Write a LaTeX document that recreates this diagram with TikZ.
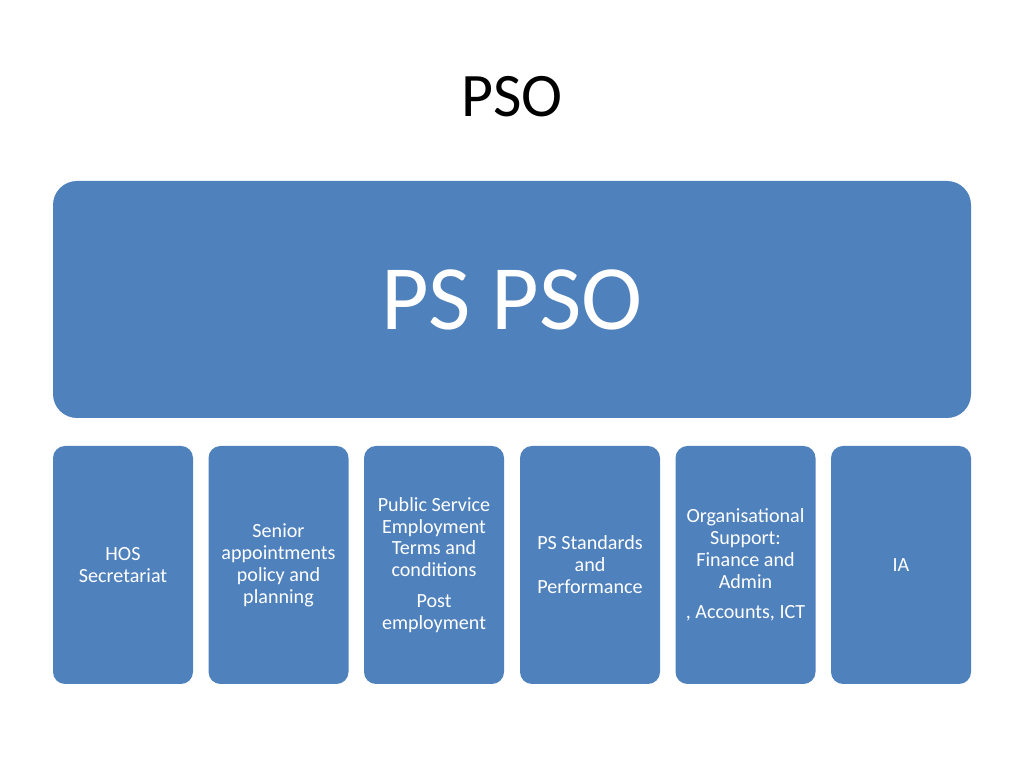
\documentclass[tikz,border=0pt]{standalone}
\usepackage{fontspec}
\setmainfont{Carlito}
\usepackage{tikz}
\usepackage{xcolor}
\usetikzlibrary{positioning}
\definecolor{psocolor}{RGB}{79,129,189}

\begin{document}
\begin{tikzpicture}[
    mainbox/.style={
        rectangle, fill=psocolor, rounded corners=0.6cm,
        minimum width=22.95cm, minimum height=5.925cm,
        align=center, text=white, font=\fontsize{65.5}{78}\selectfont
    },
    unitbox/.style={
        rectangle, fill=psocolor, rounded corners=0.3cm,
        minimum width=3.5cm, minimum height=5.95cm,
        align=center, text=white, font=\fontsize{14.3}{15.6}\selectfont
    }
]
\useasboundingbox (0,0) rectangle (25.6,19.2);

% Title
\node[font=\fontsize{44}{52}\selectfont] (title) at (12.8, 16.775) {PSO};

% Top level
\node[mainbox] (ps) at (12.8, 11.7125) {PS PSO};

% Units
\node[unitbox] (hos) at (3.075, 5.075) {HOS\\Secretariat};
\node[unitbox] (senior) at (6.9625, 5.075) {Senior\\appointments\\policy and\\planning};
\node[unitbox] (public) at (10.85, 5.075) {Public Service\\Employment\\Terms and\\conditions\\[0.22cm]Post\\employment};
\node[unitbox] (standards) at (14.75, 5.075) {PS Standards\\and\\Performance};
\node[unitbox] (support) at (18.6375, 5.075) {Organisational\\Support:\\Finance and\\Admin\\[0.22cm], Accounts, ICT};
\node[unitbox] (ia) at (22.525, 5.075) {IA};

\end{tikzpicture}
\end{document}
